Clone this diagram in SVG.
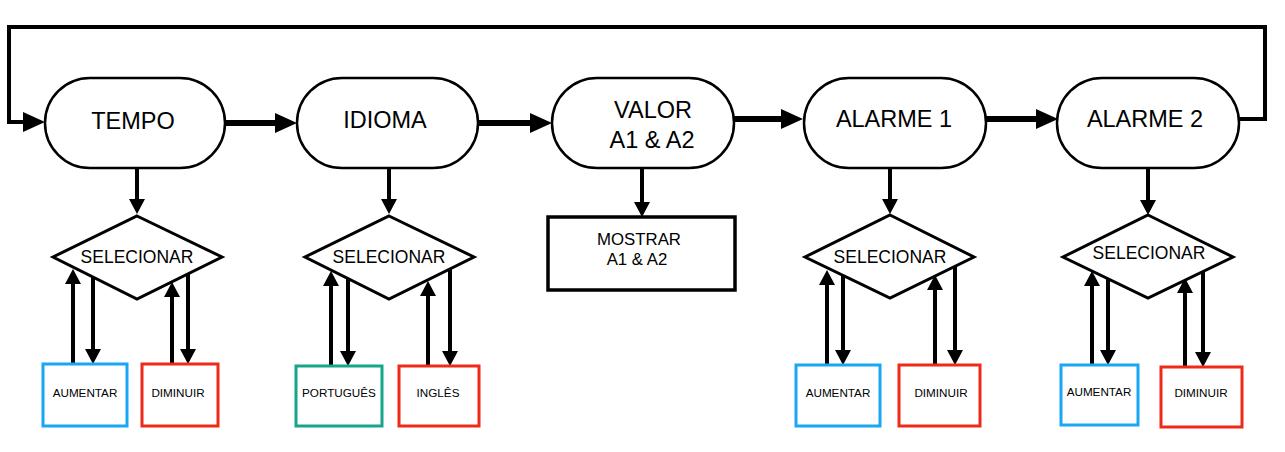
<svg xmlns="http://www.w3.org/2000/svg" width="1285" height="452" viewBox="0 0 1285 452">
<style>
text{font-family:"Liberation Sans",Arial,Helvetica,sans-serif;fill:#000;text-anchor:middle}
.pill{fill:#fff;stroke:#000;stroke-width:2.5}
.dia{fill:#fff;stroke:#000;stroke-width:3}
.big{font-size:23.5px}
.sel{font-size:17.5px}
.sm{font-size:11.7px}
.mos{font-size:16.8px}
.blue{fill:#fff;stroke:#18A6F5;stroke-width:3}
.red{fill:#fff;stroke:#EE2A1B;stroke-width:3}
.green{fill:#fff;stroke:#17A589;stroke-width:3}
.box{fill:#fff;stroke:#000;stroke-width:3.5}
.c{fill:none;stroke:#000}
.main{stroke-width:6;marker-end:url(#ah)}
.loop{stroke-width:4;marker-end:url(#ah)}
.v{stroke-width:4;marker-end:url(#as)}
</style>
<defs>
<marker id="ah" markerUnits="userSpaceOnUse" markerWidth="22" markerHeight="20" refX="0" refY="10" orient="auto"><path d="M0,0 L22,10 L0,20 z" fill="#000"/></marker>
<marker id="as" markerUnits="userSpaceOnUse" markerWidth="15" markerHeight="16" refX="0" refY="8" orient="auto"><path d="M0,0 L15,8 L0,16 z" fill="#000"/></marker>
</defs>
<rect width="1285" height="452" fill="#fff"/>
<g id="connectors">
<path class="c loop" d="M1239,119 H1265 V27 H9 V122 H23"/>
<path class="c main" d="M225,123 H275"/>
<path class="c main" d="M478,123 H530"/>
<path class="c main" d="M734,119 H781"/>
<path class="c main" d="M986,119 H1036"/>
<path class="c v" d="M137,168 V199"/>
<path class="c v" d="M389,169 V199"/>
<path class="c v" d="M642,168 V202"/>
<path class="c v" d="M890,168 V199"/>
<path class="c v" d="M1148,168 V200"/>
<path class="c v" d="M73,364 V284"/>
<path class="c v" d="M93,277 V349"/>
<path class="c v" d="M172,364 V297"/>
<path class="c v" d="M188,274 V349"/>
<path class="c v" d="M331,366 V286"/>
<path class="c v" d="M348,278 V351"/>
<path class="c v" d="M428,366 V296"/>
<path class="c v" d="M450,269 V351"/>
<path class="c v" d="M827,365 V285"/>
<path class="c v" d="M843,275 V350"/>
<path class="c v" d="M935,365 V290"/>
<path class="c v" d="M955,266 V350"/>
<path class="c v" d="M1092,365 V286"/>
<path class="c v" d="M1108,279 V350"/>
<path class="c v" d="M1185,367 V293"/>
<path class="c v" d="M1203,271 V352"/>
</g>
<g id="tempo"><rect class="pill" x="45" y="78" width="180" height="90" rx="45"/><text class="big" x="133" y="129">TEMPO</text></g>
<g id="idioma"><rect class="pill" x="297" y="78" width="181" height="90" rx="45"/><text class="big" x="385" y="128">IDIOMA</text></g>
<g id="valor"><rect class="pill" x="552" y="78" width="182" height="90" rx="45"/><text class="big" x="653" y="118">VALOR</text><text class="big" x="652" y="148">A1 &amp; A2</text></g>
<g id="alarme1"><rect class="pill" x="804" y="78" width="182" height="90" rx="45"/><text class="big" x="894" y="127">ALARME 1</text></g>
<g id="alarme2"><rect class="pill" x="1057" y="78" width="182" height="90" rx="45"/><text class="big" x="1145" y="127">ALARME 2</text></g>
<g id="sel-tempo"><polygon class="dia" points="137,216 222,257 137,299 53,257"/><text class="sel" x="137" y="263">SELECIONAR</text></g>
<g id="sel-idioma"><polygon class="dia" points="389,216 474,257 389,299 305,257"/><text class="sel" x="389" y="263">SELECIONAR</text></g>
<g id="mostrar"><rect class="box" x="548" y="217" width="187" height="73"/><text class="mos" x="639" y="245">MOSTRAR</text><text class="mos" x="637" y="265">A1 &amp; A2</text></g>
<g id="sel-alarme1"><polygon class="dia" points="890,215 974,257 890,298 805,257"/><text class="sel" x="890" y="263">SELECIONAR</text></g>
<g id="sel-alarme2"><polygon class="dia" points="1148,215 1233,257 1148,298 1063,257"/><text class="sel" x="1149" y="259">SELECIONAR</text></g>
<g id="t-aumentar"><rect class="blue" x="43" y="364" width="84" height="62"/><text class="sm" x="85" y="397">AUMENTAR</text></g>
<g id="t-diminuir"><rect class="red" x="142" y="364" width="76" height="62"/><text class="sm" x="178" y="397">DIMINUIR</text></g>
<g id="i-portugues"><rect class="green" x="296" y="366" width="86" height="60"/><text class="sm" x="339" y="397">PORTUGUÊS</text></g>
<g id="i-ingles"><rect class="red" x="399" y="366" width="80" height="60"/><text class="sm" x="438" y="397">INGLÊS</text></g>
<g id="a1-aumentar"><rect class="blue" x="796" y="365" width="84" height="61"/><text class="sm" x="838" y="397">AUMENTAR</text></g>
<g id="a1-diminuir"><rect class="red" x="899" y="365" width="81" height="61"/><text class="sm" x="941" y="397">DIMINUIR</text></g>
<g id="a2-aumentar"><rect class="blue" x="1061" y="365" width="77" height="60"/><text class="sm" x="1099" y="396">AUMENTAR</text></g>
<g id="a2-diminuir"><rect class="red" x="1161" y="367" width="81" height="60"/><text class="sm" x="1201" y="397">DIMINUIR</text></g>
</svg>
